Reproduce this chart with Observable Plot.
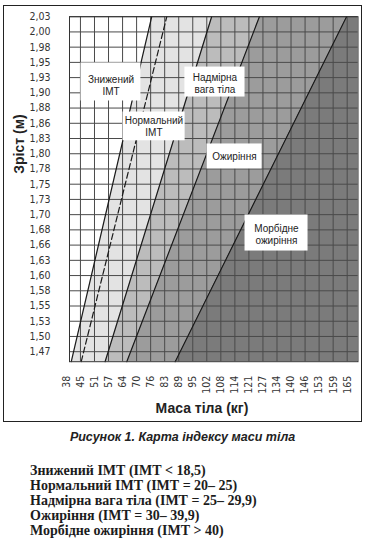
<!DOCTYPE html>
<html><head><meta charset="utf-8">
<script src="https://cdn.jsdelivr.net/npm/d3@7"></script>
<script src="https://cdn.jsdelivr.net/npm/@observablehq/plot@0.6"></script>
<style>
body{margin:0;background:#fff;}
#chart{position:absolute;left:3px;top:5px;width:362px;}
#chart svg{border:1.5px solid #222;display:block;max-width:none;}
g[aria-label="x-axis tick label"] text, g[aria-label="y-axis tick label"] text{font-family:"Liberation Sans Narrow","Arial Narrow","DejaVu Sans Condensed",sans-serif;font-stretch:condensed;}
.caption{position:absolute;left:0;width:365px;top:429.5px;text-align:center;font:italic bold 12.5px/15px "Liberation Sans",Arial,sans-serif;color:#222;}
.list{position:absolute;left:30px;top:462.5px;font:bold 14px/15px "Liberation Serif","Times New Roman",serif;color:#1c1c1c;}
</style></head><body>
<div id="chart"></div>
<div class="caption">Рисунок 1. Карта індексу маси тіла</div>
<div class="list" id="list"></div>
<script>
// ---- data ----
const weightLabels = ["38","45","51","57","64","70","76","83","89","95","102","108","114","121","127","134","140","146","153","159","165"];
const weightStones = [6,7,8,9,10,11,12,13,14,15,16,17,18,19,20,21,22,23,24,25,26];
const stoneKg = 6.35029;
const heightLabels = ["1,47","1,50","1,53","1,55","1,58","1,60","1,63","1,66","1,68","1,70","1,73","1,75","1,78","1,80","1,83","1,86","1,88","1,90","1,93","1,95","1,98","2,00","2,03"];
const heightInches = [58,59,60,61,62,63,64,65,66,67,68,69,70,71,72,73,74,75,76,77,78,79,80];
const inchM = 0.0254;

const bmiLevels = [18.5, 20, 25, 30, 40];
const weightAtTop = [76.7, 83.5, 103.8, 125.4, 164.8];     // kg where each line meets the top edge
const weightAtBottom = [40.3, 44.8, 55.6, 65.4, 87.3];     // kg where each line meets the bottom edge
const heightTop = 2.032, heightBottom = 1.4565;
const weightMin = 39.5, weightMax = 170;

const bandNames = ["Нормальний", "Надмірна", "Ожиріння", "Морбідне"];
const bandFrom = [0, 2, 3, 4];
const bandTo = [2, 3, 4, -1];
const bandColors = ["#e3e3e3", "#bcbcbc", "#9c9c9c", "#7b7b7b"];

const annotations = [
  {text: "Знижений\nІМТ", x1: 44.7, x2: 71.8, y1: 1.8914, y2: 1.9548, tx: 58.3, ty: 1.918},
  {text: "Нормальний\nІМТ", x1: 63.7, x2: 91.8, y1: 1.825, y2: 1.873, tx: 77.7, ty: 1.849},
  {text: "Надмірна\nвага тіла", x1: 91.7, x2: 118.9, y1: 1.898, y2: 1.948, tx: 105.3, ty: 1.9214},
  {text: "Ожиріння", x1: 101.7, x2: 126.6, y1: 1.778, y2: 1.8197, tx: 114.1, ty: 1.7988},
  {text: "Морбідне\nожиріння", x1: 118.9, x2: 147.4, y1: 1.6411, y2: 1.7012, tx: 133.1, ty: 1.6695}
];

const legendLines = [
  "Знижений ІМТ (ІМТ < 18,5)",
  "Нормальний ІМТ (ІМТ = 20– 25)",
  "Надмірна вага тіла (ІМТ = 25– 29,9)",
  "Ожиріння (ІМТ = 30– 39,9)",
  "Морбідне ожиріння (ІМТ > 40)"
];

// ---- derived tables ----
const weightTickKg = weightStones.map(s => s * stoneKg);
const xLabelMap = new Map(weightTickKg.map((d, i) => [d, weightLabels[i]]));
const heightTickM = heightInches.map(i => i * inchM);
const yLabelMap = new Map(heightTickM.map((d, i) => [d, heightLabels[i]]));

const bandMarks = bandNames.map((name, i) => {
  const a = bandFrom[i], b = bandTo[i];
  const rows = [
    {h: heightBottom, w1: weightAtBottom[a], w2: b < 0 ? weightMax : weightAtBottom[b]},
    {h: heightTop, w1: weightAtTop[a], w2: b < 0 ? weightMax : weightAtTop[b]}
  ];
  return Plot.areaX(rows, {y: "h", x1: "w1", x2: "w2", fill: bandColors[i]});
});

const lineRows = bmiLevels.flatMap((bmi, i) => [
  {bmi, w: weightAtBottom[i], h: heightBottom},
  {bmi, w: weightAtTop[i], h: heightTop}
]);

const chart = Plot.plot({
  width: 357,
  height: 415,
  marginTop: 10.2,
  marginRight: 3.5,
  marginBottom: 59.8,
  marginLeft: 65,
  style: {color: "#333", background: "white", fontFamily: "'Liberation Sans', Arial, sans-serif"},
  x: {domain: [weightMin, weightMax]},
  y: {domain: [heightBottom, heightTop]},
  marks: [
    ...bandMarks,
    Plot.gridX(weightTickKg.filter(d => d >= weightMin && d <= weightMax), {stroke: "#4a4a4a", strokeOpacity: 1, strokeWidth: 1}),
    Plot.gridY(heightTickM, {stroke: "#4a4a4a", strokeOpacity: 1, strokeWidth: 1}),
    Plot.line(lineRows.filter(d => d.bmi !== 20), {x: "w", y: "h", z: "bmi", stroke: "#1a1a1a", strokeWidth: 1.2}),
    Plot.line(lineRows.filter(d => d.bmi === 20), {x: "w", y: "h", z: "bmi", stroke: "#1a1a1a", strokeWidth: 1.2, strokeDasharray: "6,3"}),
    Plot.frame({stroke: "#333", strokeWidth: 1}),
    Plot.rect(annotations, {x1: "x1", x2: "x2", y1: "y1", y2: "y2", fill: "white"}),
    Plot.text(annotations, {x: "tx", y: "ty", text: "text", fontSize: 10, lineHeight: 1.2, fill: "#222"}),
    Plot.axisX(weightTickKg, {tickFormat: d => xLabelMap.get(d), tickRotate: -90, tickSize: 0, tickPadding: 14, fontSize: 10.5, label: null}),
    Plot.axisY(heightTickM, {tickFormat: d => yLabelMap.get(d), tickSize: 0, tickPadding: 19, fontSize: 10.5, label: null}),
    Plot.text([{t: "Зріст (м)", h: 1.77}], {y: "h", text: "t", frameAnchor: "left", dx: -50, rotate: -90, fontSize: 14, fontWeight: "bold", fill: "#222"}),
    Plot.text([{t: "Маса тіла (кг)", w: 99.4}], {x: "w", text: "t", frameAnchor: "bottom", dy: 51, fontSize: 14, fontWeight: "bold", fill: "#222"})
  ]
});
document.getElementById("chart").append(chart);
document.getElementById("list").innerHTML = legendLines.map(s => `<div>${s.replace(/</g, "&lt;").replace(/>/g, "&gt;")}</div>`).join("");
</script>
</body></html>
